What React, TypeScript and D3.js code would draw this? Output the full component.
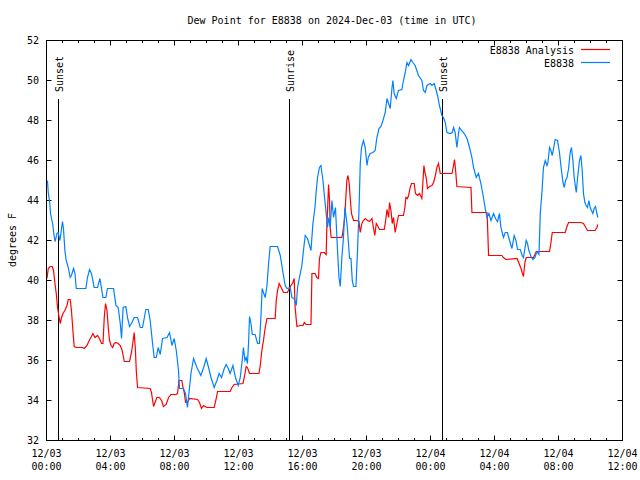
import React from "react";
import * as d3 from "d3";

const TITLE = "Dew Point for E8838 on 2024-Dec-03 (time in UTC)";
const Y_LABEL = "degrees F";
const START_UTC = Date.UTC(2024, 11, 3, 0, 0);
const X_TICK_HOURS = [0, 4, 8, 12, 16, 20, 24, 28, 32, 36];
const Y_TICKS = [32, 34, 36, 38, 40, 42, 44, 46, 48, 50, 52];
const SUN_EVENTS = ["Sunset", "Sunrise", "Sunset"];
const SUN_HOURS = [0.75, 15.19, 24.75];
const SERIES_NAMES = ["E8838 Analysis", "E8838"];

// hours since 2024-12-03 00:00 UTC
const stationHours = [
  0.06, 0.11, 0.21, 0.25, 0.38, 0.48, 0.54, 0.65, 0.73, 0.84, 0.94, 1.0, 1.06, 1.15, 1.23, 1.36, 1.48, 1.56, 1.69, 1.78,
  1.86, 2.46, 2.56, 2.69, 2.81, 2.98, 3.19, 3.34, 3.53, 3.71, 3.81, 4.19, 4.34, 4.48, 4.61, 4.69, 4.79, 4.96, 5.06, 5.19,
  5.31, 5.48, 5.69, 5.86, 6.0, 6.21, 6.36, 6.48, 6.63, 6.73, 6.86, 6.98, 7.11, 7.25, 7.53, 7.69, 7.84, 7.98, 8.11, 8.25,
  8.31, 8.56, 8.69, 8.81, 8.9, 9.03, 9.19, 9.4, 9.65, 9.86, 9.98, 10.13, 10.28, 10.48, 10.65, 10.79, 10.94, 11.11, 11.23,
  11.36, 11.48, 11.65, 11.81, 11.98, 12.11, 12.21, 12.31, 12.4, 12.48, 12.56, 12.63, 12.69, 12.78, 12.86, 13.04, 13.19,
  13.31, 13.4, 13.48, 13.56, 13.67, 13.78, 13.88, 13.98, 14.44, 14.61, 14.78, 14.92, 15.03, 15.23, 15.34, 15.48, 15.61,
  15.69, 15.81, 15.96, 16.06, 16.17, 16.31, 16.44, 16.53, 16.65, 16.78, 16.86, 16.94, 17.06, 17.15, 17.28, 17.38, 17.48,
  17.56, 17.65, 17.73, 17.84, 17.94, 18.06, 18.19, 18.28, 18.36, 18.46, 18.56, 18.65, 18.78, 18.88, 18.94, 19.03, 19.11,
  19.19, 19.34, 19.44, 19.53, 19.61, 19.69, 19.81, 19.92, 20.03, 20.11, 20.23, 20.4, 20.54, 20.65, 20.78, 20.9, 21.03,
  21.17, 21.28, 21.38, 21.48, 21.59, 21.65, 21.73, 21.86, 22.0, 22.21, 22.31, 22.42, 22.53, 22.63, 22.78, 22.9, 23.04,
  23.25, 23.46, 23.56, 23.67, 23.78, 23.98, 24.09, 24.23, 24.36, 24.44, 24.56, 24.71, 24.81, 24.92, 25.03, 25.23, 25.36,
  25.44, 25.54, 25.65, 25.75, 25.81, 25.94, 26.11, 26.28, 26.44, 26.59, 26.69, 26.86, 27.0, 27.15, 27.31, 27.44, 27.53,
  27.65, 27.78, 27.94, 28.06, 28.19, 28.31, 28.4, 28.56, 28.67, 28.81, 28.94, 29.09, 29.23, 29.34, 29.44, 29.61, 29.73,
  29.81, 29.9, 29.98, 30.06, 30.15, 30.28, 30.4, 30.53, 30.65, 30.78, 30.86, 30.96, 31.06, 31.17, 31.28, 31.34, 31.44,
  31.53, 31.61, 31.69, 31.79, 31.94, 32.06, 32.17, 32.28, 32.36, 32.44, 32.53, 32.63, 32.73, 32.81, 32.9, 32.98, 33.11,
  33.19, 33.31, 33.4, 33.48, 33.56, 33.65, 33.73, 33.81, 33.9, 33.98, 34.06, 34.15, 34.23, 34.31, 34.4, 34.46,
];
const stationValues = [
  45.0, 44.4, 43.85, 43.35, 42.85, 42.2, 41.95, 42.35, 42.4, 42.0, 42.6, 42.95, 42.6, 41.5, 41.0, 40.65, 40.15, 40.25, 40.6, 40.35,
  39.6, 39.6, 40.15, 40.55, 40.35, 39.65, 39.65, 40.1, 39.15, 39.15, 39.6, 39.6, 38.75, 38.65, 37.85, 37.1, 38.65, 38.7, 38.15, 37.7,
  37.85, 38.15, 38.15, 37.65, 37.65, 38.55, 38.55, 38.0, 36.85, 36.15, 36.15, 36.65, 36.3, 37.1, 37.15, 37.4, 36.75, 37.1, 36.5, 35.5,
  34.6, 34.6, 34.35, 33.65, 34.35, 35.35, 36.1, 35.65, 35.25, 35.75, 36.1, 35.65, 35.15, 34.65, 35.0, 35.35, 35.15, 35.6, 35.8,
  35.6, 35.35, 35.75, 35.15, 34.75, 35.15, 35.85, 36.65, 36.0, 36.15, 35.85, 36.9, 38.2, 37.85, 37.3, 37.3, 36.85,
  36.85, 38.15, 39.6, 39.4, 39.15, 39.75, 40.85, 41.7, 41.7, 41.25, 40.4, 39.75, 39.6, 39.65, 39.15, 39.1, 38.75,
  39.65, 40.15, 40.75, 41.5, 42.25, 42.1, 41.75, 41.5, 42.85, 43.65, 44.5, 45.15, 45.65, 45.75, 45.0, 44.15, 43.35,
  42.65, 43.15, 42.65, 44.0, 43.15, 43.65, 41.5, 40.15, 39.7, 41.15, 42.15, 43.65, 42.85, 41.8, 41.1, 41.1, 40.0,
  39.7, 39.7, 41.5, 43.5, 45.85, 46.65, 47.0, 46.65, 45.75, 46.15, 46.35, 46.4, 46.5, 47.15, 47.6, 47.7, 48.0,
  48.4, 49.1, 48.85, 48.6, 49.6, 50.0, 49.35, 49.1, 49.5, 49.55, 50.0, 50.4, 50.9, 50.75, 51.05, 50.9, 50.75,
  50.25, 50.0, 49.5, 49.4, 49.75, 49.85, 49.75, 49.85, 49.5, 49.25, 48.75, 48.25, 48.15, 47.9, 47.4, 47.35, 47.4,
  47.65, 47.4, 46.65, 47.35, 47.65, 47.5, 47.35, 47.1, 46.65, 46.15, 45.65, 45.15, 45.35, 44.85, 44.15, 43.5, 43.15,
  43.35, 43.0, 43.35, 43.1, 42.95, 43.35, 42.65, 42.15, 42.4, 42.4, 42.0, 41.6, 42.25, 42.0, 41.55, 41.55, 41.25,
  41.15, 41.6, 42.0, 41.85, 41.5, 41.2, 41.05, 41.15, 41.45, 41.3, 43.35, 44.35, 45.65, 46.0, 45.75, 45.9, 46.65,
  46.5, 46.25, 46.6, 47.05, 47.0, 46.4, 45.6, 44.9, 44.65, 45.0, 45.15, 45.6, 46.4, 46.65, 46.0, 45.15, 44.4,
  45.1, 46.0, 46.25, 45.5, 44.35, 43.9, 43.75, 43.65, 44.0, 43.65, 43.5, 43.35, 43.6, 43.7, 43.35, 43.15,
];

const analysisHours = [
  0.03, 0.11, 0.23, 0.36, 0.44, 0.53, 0.61, 0.69, 0.79, 0.86, 0.94, 1.03, 1.15, 1.28, 1.36, 1.48, 1.56, 1.65, 1.73, 1.86,
  2.25, 2.36, 2.53, 2.67, 2.81, 2.9, 3.03, 3.19, 3.31, 3.44, 3.53, 3.61, 3.69, 3.78, 3.86, 3.94, 4.03, 4.13, 4.23, 4.34,
  4.48, 4.61, 4.73, 4.86, 5.19, 5.31, 5.4, 5.48, 5.56, 5.61, 5.69, 6.48, 6.56, 6.69, 6.78, 6.9, 7.06, 7.19, 7.31, 7.48,
  7.63, 7.78, 8.11, 8.19, 8.28, 8.46, 8.53, 8.61, 8.69, 8.81, 8.94, 9.44, 9.56, 9.69, 9.81, 10.03, 10.48, 10.61, 10.69,
  11.48, 11.59, 11.73, 12.28, 12.36, 12.48, 12.56, 12.69, 13.28, 13.36, 13.46, 13.56, 13.67, 13.78, 14.29, 14.36, 14.44,
  14.54, 14.67, 14.81, 15.06, 15.17, 15.28, 15.4, 15.48, 15.54, 15.65, 15.86, 16.03, 16.11, 16.23, 16.53, 16.59, 16.79,
  16.9, 17.0, 17.06, 17.15, 17.36, 17.48, 17.52, 17.63, 17.69, 17.73, 17.79, 18.46, 18.52, 18.63, 18.71, 18.77, 18.84,
  18.92, 18.98, 19.06, 19.19, 19.4, 19.53, 19.61, 19.71, 19.81, 19.92, 20.06, 20.19, 20.34, 20.44, 20.52, 20.61, 20.69,
  20.81, 21.11, 21.19, 21.28, 21.38, 21.44, 21.53, 21.61, 21.69, 21.79, 21.9, 22.0, 22.31, 22.4, 22.46, 22.56, 22.63,
  22.73, 22.81, 22.98, 23.06, 23.19, 23.31, 23.46, 23.52, 23.59, 23.65, 23.73, 23.81, 23.94, 24.09, 24.19, 24.29, 24.4,
  24.5, 24.61, 25.34, 25.44, 25.5, 25.56, 25.65, 26.53, 26.59, 27.53, 27.56, 27.63, 28.46, 28.56, 28.71, 29.41, 29.51,
  29.66, 29.73, 29.81, 29.9, 29.98, 30.44, 30.61, 31.44, 31.53, 31.61, 32.42, 32.53, 32.63, 33.4, 33.56, 33.67, 33.81,
  34.29, 34.4, 34.46,
];
const analysisValues = [
  40.1, 40.6, 40.7, 40.7, 40.5, 39.85, 39.35, 38.65, 38.15, 37.85, 38.15, 38.35, 38.5, 38.75, 39.05, 39.05, 38.5, 37.5, 36.7, 36.65,
  36.65, 36.6, 36.75, 37.0, 37.2, 37.35, 37.15, 37.25, 37.1, 36.85, 36.85, 38.15, 38.85, 38.5, 37.65, 37.0, 36.75, 36.65, 36.85, 36.9,
  36.85, 36.75, 36.5, 35.95, 35.95, 36.4, 36.9, 37.4, 36.5, 35.5, 34.65, 34.6, 34.4, 33.7, 33.9, 34.15, 34.15, 34.0, 33.7, 33.8,
  34.15, 34.3, 34.3, 34.35, 35.0, 35.0, 34.65, 34.4, 33.9, 33.9, 34.1, 34.05, 33.9, 33.6, 33.75, 33.65, 33.65, 34.1, 34.45,
  34.45, 34.65, 34.8, 34.85, 35.15, 35.7, 35.65, 35.35, 35.35, 35.75, 36.5, 37.0, 37.65, 38.1, 38.1, 39.0, 39.5,
  39.85, 39.65, 39.4, 39.4, 39.6, 39.75, 39.9, 40.1, 38.65, 37.7, 37.75, 37.75, 37.9, 37.8, 37.8, 40.35, 40.35,
  40.15, 40.1, 41.1, 41.4, 41.4, 41.3, 42.65, 44.8, 44.0, 42.65, 42.15, 42.15, 42.4, 43.1, 44.15, 45.0, 45.25,
  44.85, 44.15, 43.35, 43.0, 43.0, 42.95, 42.4, 42.85, 43.0, 43.1, 43.0, 42.95, 43.1, 42.6, 42.25, 42.85, 42.75,
  42.55, 42.55, 42.95, 43.55, 43.15, 43.9, 43.5, 42.85, 43.15, 42.4, 42.85, 43.25, 43.25, 43.65, 44.15, 44.1, 44.25,
  44.65, 44.85, 44.85, 44.35, 44.25, 44.35, 44.1, 44.85, 45.75, 45.4, 45.15, 44.6, 44.7, 44.75, 44.9, 45.2, 45.65,
  45.85, 45.35, 45.35, 45.75, 46.05, 45.6, 44.7, 44.65, 43.4, 43.4, 42.9, 41.25, 41.25, 41.15, 41.05, 41.1, 40.9,
  40.6, 40.4, 40.2, 40.9, 41.15, 41.15, 41.45, 41.45, 41.9, 42.4, 42.4, 42.7, 42.9, 42.9, 42.85, 42.7, 42.5,
  42.5, 42.65, 42.8,
];

const COLORS = ["#ff0000", "#0080ff"];
const FONT = "'DejaVu Sans Mono', 'Liberation Mono', monospace";

const W = 640;
const H = 480;
const M = { left: 46.5, right: 622.5, top: 40.5, bottom: 440.5 };

const toDate = (h: number) => new Date(START_UTC + h * 3600 * 1000);

export default function App() {
  const x = d3
    .scaleUtc()
    .domain([toDate(0), toDate(36)])
    .range([M.left, M.right]);
  const y = d3.scaleLinear().domain([32, 52]).range([M.bottom, M.top]);

  const line = d3
    .line<[number, number]>()
    .x((d) => x(toDate(d[0])))
    .y((d) => y(d[1]));

  const analysis: [number, number][] = analysisHours.map((h, i) => [h, analysisValues[i]]);
  const station: [number, number][] = stationHours.map((h, i) => [h, stationValues[i]]);

  const minorHours = d3.range(0, 37, 1).filter((h) => h % 4 !== 0);
  const fmtDate = d3.utcFormat("%m/%d");
  const fmtTime = d3.utcFormat("%H:%M");

  const textStyle = { fontFamily: FONT, fontSize: 10, fill: "#000" } as const;

  return (
    <svg width={W} height={H} style={{ position: "absolute", left: 0, top: 0, background: "#fff" }}>
      <rect x={0} y={0} width={W} height={H} fill="#fff" />
      {/* title */}
      <text x={332} y={23.5} textAnchor="middle" style={textStyle}>
        {TITLE}
      </text>
      {/* y label */}
      <text transform={`translate(15.5,240) rotate(-90)`} textAnchor="middle" style={textStyle}>
        {Y_LABEL}
      </text>

      {/* y ticks */}
      {Y_TICKS.map((v) => (
        <g key={`y${v}`}>
          <line x1={M.left} x2={M.left + 5} y1={Math.round(y(v) - 0.5) + 0.5} y2={Math.round(y(v) - 0.5) + 0.5} stroke="#000" />
          <line x1={M.right - 5} x2={M.right} y1={Math.round(y(v) - 0.5) + 0.5} y2={Math.round(y(v) - 0.5) + 0.5} stroke="#000" />
          <text x={39} y={y(v) + 3.5} textAnchor="end" style={textStyle}>
            {v}
          </text>
        </g>
      ))}

      {/* x ticks */}
      {X_TICK_HOURS.map((h) => {
        const xx = Math.round(x(toDate(h)) - 0.5) + 0.5;
        return (
          <g key={`x${h}`}>
            <line x1={xx} x2={xx} y1={M.bottom} y2={M.bottom - 5} stroke="#000" />
            <line x1={xx} x2={xx} y1={M.top} y2={M.top + 5} stroke="#000" />
            <text x={xx} y={457} textAnchor="middle" style={textStyle}>
              {fmtDate(toDate(h))}
            </text>
            <text x={xx} y={470} textAnchor="middle" style={textStyle}>
              {fmtTime(toDate(h))}
            </text>
          </g>
        );
      })}
      {minorHours.map((h) => {
        const xx = Math.round(x(toDate(h)) - 0.5) + 0.5;
        return (
          <g key={`m${h}`}>
            <line x1={xx} x2={xx} y1={M.bottom} y2={M.bottom - 2.5} stroke="#000" />
            <line x1={xx} x2={xx} y1={M.top} y2={M.top + 2.5} stroke="#000" />
          </g>
        );
      })}

      {/* sun events */}
      {SUN_HOURS.map((h, i) => {
        const xx = Math.round(x(toDate(h)) - 0.5) + 0.5;
        return (
          <g key={`s${i}`}>
            <line x1={xx} x2={xx} y1={99} y2={M.bottom} stroke="#000" />
            <text transform={`translate(${xx + 4.5},92) rotate(-90)`} textAnchor="start" style={textStyle}>
              {SUN_EVENTS[i]}
            </text>
          </g>
        );
      })}

      {/* series */}
      <path d={line(analysis) ?? ""} fill="none" stroke={COLORS[0]} strokeWidth={1.2} />
      <path d={line(station) ?? ""} fill="none" stroke={COLORS[1]} strokeWidth={1.2} />

      {/* frame */}
      <rect x={M.left} y={M.top} width={M.right - M.left} height={M.bottom - M.top} fill="none" stroke="#000" />

      {/* legend */}
      {SERIES_NAMES.map((name, i) => (
        <g key={name}>
          <text x={574} y={53.5 + i * 13} textAnchor="end" style={textStyle}>
            {name}
          </text>
          <line x1={581} x2={610} y1={49.5 + i * 13} y2={49.5 + i * 13} stroke={COLORS[i]} strokeWidth={1.2} />
        </g>
      ))}
    </svg>
  );
}
